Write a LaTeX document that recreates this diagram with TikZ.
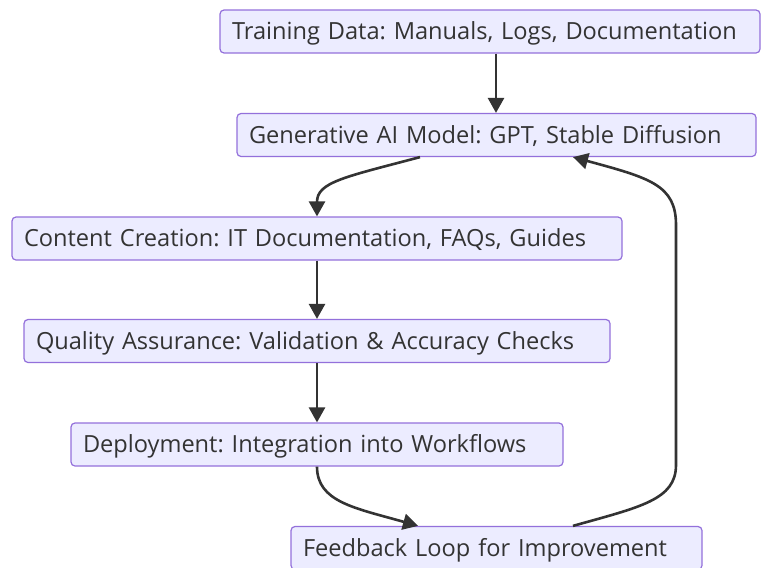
\documentclass[tikz,border=0pt]{standalone}
\usepackage{fontspec}
\setmainfont{Open Sans}
\usetikzlibrary{arrows.meta}
\definecolor{boxfill}{HTML}{ECECFF}
\definecolor{boxline}{HTML}{9370DB}
\definecolor{ink}{HTML}{333333}
\frenchspacing
\begin{document}
\begin{tikzpicture}[x=1pt,y=-1pt,
  stepbox/.style={draw=boxline, line width=1.2pt, fill=boxfill, rounded corners=4pt,
    text=ink, font=\fontsize{23.6}{28}\selectfont, inner xsep=12pt, inner ysep=0pt,
    text height=16.8pt, text depth=0pt,
    minimum height=43pt, align=left, text width=#1-24pt},
  flow/.style={draw=ink, line width=2.6pt, -{Triangle[length=15pt,width=16pt]}}]
\useasboundingbox (0,0) rectangle (761,568);

\node[stepbox=540pt] (train) at (490,31.5) {\mbox{Training Data: Manuals, Logs, Documentation}};
\node[stepbox=519pt] (gen) at (496.5,135) {\mbox{Generative AI Model: GPT, Stable Diffusion}};
\node[stepbox=610pt] (content) at (317,238.5) {\mbox{Content Creation: IT Documentation, FAQs, Guides}};
\node[stepbox=586pt] (qa) at (317,341) {\mbox{Quality Assurance: Validation \& Accuracy Checks}};
\node[stepbox=492pt] (deploy) at (317,444.5) {\mbox{Deployment: Integration into Workflows}};
\node[stepbox=411pt] (feedback) at (496.5,548) {\mbox{Feedback Loop for Improvement}};

\draw[flow] (train.south -| 496,0) -- (gen.north -| 496,0);
\draw[flow] (gen.south -| 420,0) .. controls (345,177) and (317,182) .. (content.north -| 317,0);
\draw[flow] (content) -- (qa);
\draw[flow] (qa) -- (deploy);
\draw[flow] (deploy.south -| 317,0) .. controls (317,502) and (355,508) .. (feedback.north -| 418,0);
\draw[flow] (feedback.north -| 573,0) .. controls (640,507) and (676,500) .. (676,465)
  -- (676,225) .. controls (676,185) and (650,178) .. (gen.south -| 573,0);
\end{tikzpicture}
\end{document}
